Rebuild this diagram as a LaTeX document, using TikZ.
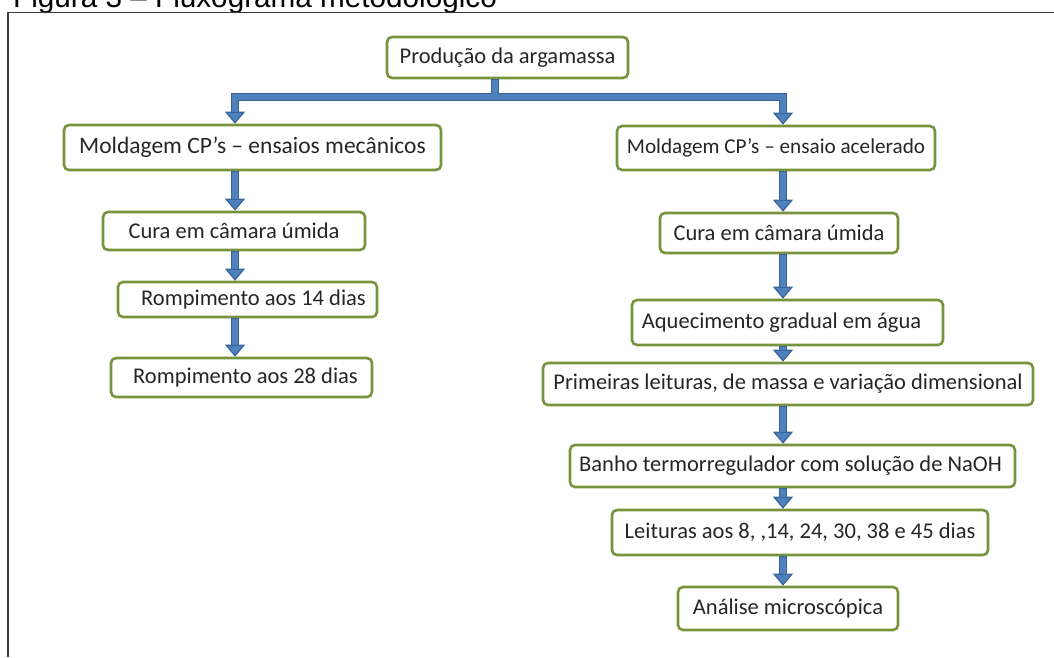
\documentclass[tikz,border=0pt]{standalone}
\usepackage{fontspec}
\setmainfont{Carlito}
\newfontfamily\titlefnt{Liberation Sans}
\usetikzlibrary{arrows.meta}
\definecolor{boxgreen}{HTML}{77933C}
\definecolor{arrowblue}{HTML}{4F81BD}
\definecolor{arrowdark}{HTML}{3A6399}
\definecolor{framegray}{HTML}{3C3C3C}
\tikzset{
  stepbox/.style={draw=boxgreen, line width=2.6pt, rounded corners=5pt, fill=white,
    inner sep=0pt, font=\fontsize{22.5}{27}\selectfont, text=black!85},
  flowout/.style={draw=arrowdark, line width=8pt, line join=miter},
  flowin/.style={draw=arrowblue, line width=5.2pt, line join=miter},
  tipout/.style={flowout, -{Triangle[length=12pt,width=20pt,line width=1.2pt,fill=arrowblue]}},
  tipin/.style={flowin, shorten >=12pt},
  bothout/.style={flowout, {Triangle[length=12pt,width=20pt,line width=1.2pt,fill=arrowblue]}-{Triangle[length=12pt,width=20pt,line width=1.2pt,fill=arrowblue]}},
  bothin/.style={flowin, shorten >=12pt, shorten <=12pt},
}
\begin{document}
\begin{tikzpicture}[x=1pt,y=-1pt]
\useasboundingbox (0,0) rectangle (1054,657);
\begin{scope}
\clip (0,0) rectangle (1054,657);
\node[anchor=base west, inner sep=0pt, font=\titlefnt\fontsize{29.7}{34}\selectfont] (title) at (13,7) {Figura 3 – Fluxograma metodológico};
\end{scope}
\draw[framegray, line width=1.5pt] (1054,12.5) -- (8,12.5) -- (8,657);

% nodes
\node[stepbox, minimum width=241pt, minimum height=41pt] (P) at (507.5,57.5) {Produção da argamassa};
\node[stepbox, minimum width=377pt, minimum height=45pt, font=\fontsize{23.5}{28}\selectfont] (ML) at (252.5,147.5) {Moldagem CP’s – ensaios mecânicos};
\node[stepbox, minimum width=318pt, minimum height=44pt, font=\fontsize{21.2}{26}\selectfont] (MR) at (776,148) {Moldagem CP’s – ensaio acelerado};
\node[stepbox, minimum width=262pt, minimum height=38pt] (LC) at (234,231) {Cura em câmara úmida};
\node[stepbox, minimum width=259pt, minimum height=35pt] (L14) at (247.5,299.5) {\hspace*{12pt}Rompimento aos 14 dias};
\node[stepbox, minimum width=261pt, minimum height=39pt] (L28) at (241.5,377.5) {\hspace*{8pt}Rompimento aos 28 dias};
\node[stepbox, minimum width=238pt, minimum height=40pt] (RC) at (779,233) {Cura em câmara úmida};
\node[stepbox, minimum width=311pt, minimum height=45pt] (RA) at (787.5,322.5) {Aquecimento gradual em água\hspace*{12pt}};
\node[stepbox, minimum width=490pt, minimum height=42pt] (RP) at (788,384) {Primeiras leituras, de massa e variação dimensional};
\node[stepbox, minimum width=445pt, minimum height=42pt] (RB) at (792.5,466) {Banho termorregulador com solução de NaOH\hspace*{4pt}};
\node[stepbox, minimum width=376pt, minimum height=45pt] (RL) at (800,532.5) {Leituras aos 8, ,14, 24, 30, 38 e 45 dias};
\node[stepbox, minimum width=220pt, minimum height=43pt] (RAn) at (788,608.5) {Análise microscópica};

% column guides
\coordinate (lx) at (235,0);
\coordinate (rx) at (783,0);
\coordinate (jx) at (495,0);
\coordinate (bar) at (0,97);

% connectors: outline pass
\draw[flowout] (P.south -| jx) -- (bar -| jx);
\draw[bothout] (ML.north -| lx) -- (bar -| lx) -- (bar -| rx) -- (MR.north -| rx);
\draw[tipout] (ML.south -| lx) -- (LC.north -| lx);
\draw[tipout] (LC.south -| lx) -- (L14.north -| lx);
\draw[tipout] (L14.south -| lx) -- (L28.north -| lx);
\draw[tipout] (MR.south -| rx) -- (RC.north -| rx);
\draw[tipout] (RC.south -| rx) -- (RA.north -| rx);
\draw[tipout] (RA.south -| rx) -- (RP.north -| rx);
\draw[tipout] (RP.south -| rx) -- (RB.north -| rx);
\draw[tipout] (RB.south -| rx) -- (RL.north -| rx);
\draw[tipout] (RL.south -| rx) -- (RAn.north -| rx);
% connectors: fill pass
\draw[flowin] ([yshift=-1pt]P.south -| jx) -- (bar -| jx);
\draw[bothin] (ML.north -| lx) -- (bar -| lx) -- (bar -| rx) -- (MR.north -| rx);
\draw[tipin] ([yshift=-1pt]ML.south -| lx) -- (LC.north -| lx);
\draw[tipin] ([yshift=-1pt]LC.south -| lx) -- (L14.north -| lx);
\draw[tipin] ([yshift=-1pt]L14.south -| lx) -- (L28.north -| lx);
\draw[tipin] ([yshift=-1pt]MR.south -| rx) -- (RC.north -| rx);
\draw[tipin] ([yshift=-1pt]RC.south -| rx) -- (RA.north -| rx);
\draw[tipin] ([yshift=-1pt]RA.south -| rx) -- (RP.north -| rx);
\draw[tipin] ([yshift=-1pt]RP.south -| rx) -- (RB.north -| rx);
\draw[tipin] ([yshift=-1pt]RB.south -| rx) -- (RL.north -| rx);
\draw[tipin] ([yshift=-1pt]RL.south -| rx) -- (RAn.north -| rx);
\end{tikzpicture}
\end{document}
